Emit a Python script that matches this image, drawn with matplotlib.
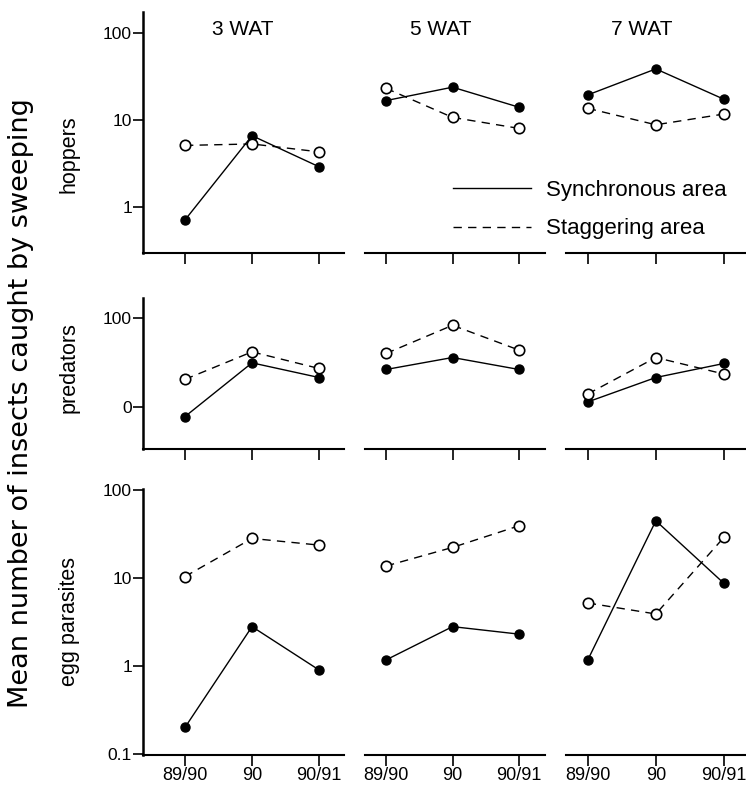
import matplotlib
matplotlib.use("Agg")
import matplotlib.pyplot as plt
from matplotlib.lines import Line2D

plt.rcParams['font.family'] = ['Liberation Sans', 'DejaVu Sans']

# Categories
years = ["89/90", "90", "90/91"]
weeks = ["3 WAT", "5 WAT", "7 WAT"]
groups = ["hoppers", "predators", "egg parasites"]

# Mean catches, one list per WAT column (89/90, 90, 90/91)
hoppers_sync = [[0.71, 6.6, 2.9], [16.7, 23.8, 14.0], [19.4, 38.6, 17.3]]
hoppers_stag = [[5.1, 5.3, 4.3], [23.1, 10.7, 8.0], [13.6, 8.8, 11.7]]
predators_sync = [[7.9, 31.3, 21.5], [26.4, 35.9, 26.4], [11.5, 21.5, 30.8]]
predators_stag = [[20.5, 41.5, 27.1], [39.8, 82.0, 43.4], [14.1, 35.9, 23.5]]
parasites_sync = [[0.2, 2.8, 0.9], [1.17, 2.8, 2.3], [1.17, 44.8, 8.7]]
parasites_stag = [[10.4, 28.2, 23.7], [13.7, 22.3, 39.3], [5.2, 3.9, 29.0]]

sync_data = [hoppers_sync, predators_sync, parasites_sync]
stag_data = [hoppers_stag, predators_stag, parasites_stag]

# layout (pixels of a 746x802 figure)
W, H = 746, 802
row_px = [(12, 253), (298, 449), (489, 755)]
col_px = [(143, 344), (365, 545), (566, 745)]
xlims = [(-0.627, 2.373), (-0.316, 2.39), (-0.32, 2.31)]
ylims = [(0.296, 174), (3.44, 165), (0.097, 103)]
yticks = [([1, 10, 100], ["1", "10", "100"]),
          ([10, 100], ["0", "100"]),
          ([0.1, 1, 10, 100], ["0.1", "1", "10", "100"])]
title_x = [0.866, 0.83, 0.79]
label_y = [154, 368, 622]

fig = plt.figure(figsize=(W / 100, H / 100), dpi=100)

for r in range(3):
    for c in range(3):
        y0, y1 = row_px[r]
        x0, x1 = col_px[c]
        ax = fig.add_axes([x0 / W, 1 - y1 / H, (x1 - x0) / W, (y1 - y0) / H])
        ax.patch.set_alpha(0)
        x = list(range(len(years)))
        ax.plot(x, sync_data[r][c], color='black', lw=1.0, marker='o',
                ms=6.5, mfc='black', mec='black', zorder=3)
        ax.plot(x, stag_data[r][c], color='black', lw=1.0, ls=(0, (6, 4.5)),
                marker='o', ms=7.5, mfc='white', mec='black', mew=1.2, zorder=4)
        ax.set_yscale('log')
        ax.set_xlim(*xlims[c])
        ax.set_ylim(*ylims[r])
        ax.minorticks_off()
        for s in ['top', 'right']:
            ax.spines[s].set_visible(False)
        ax.spines['bottom'].set_linewidth(1.5)
        ax.set_xticks(x)
        ax.tick_params(axis='x', direction='out', length=8, width=1.2,
                       labelsize=13, pad=1)
        if r == 2:
            ax.set_xticklabels(years)
        else:
            ax.set_xticklabels([])
        if c == 0:
            ax.spines['left'].set_linewidth(1.8)
            ax.set_yticks(yticks[r][0], yticks[r][1])
            ax.tick_params(axis='y', direction='out', length=7, width=1.2,
                           labelsize=12.5, pad=1)
        else:
            ax.spines['left'].set_visible(False)
            ax.set_yticks([])
        if r == 0:
            ax.text(title_x[c], 0.929, weeks[c], transform=ax.get_xaxis_transform(),
                    ha='center', va='center', fontsize=15)
        if r == 0 and c == 1:
            handles = [Line2D([], [], color='black', lw=1.0),
                       Line2D([], [], color='black', lw=1.0, ls=(0, (6, 4.5)))]
            ax.legend(handles, ["Synchronous area", "Staggering area"],
                      loc='upper left', bbox_to_anchor=(453 / W, 1 - 180 / H),
                      bbox_transform=fig.transFigure, frameon=False,
                      fontsize=16, handlelength=3.5, handletextpad=0.7,
                      labelspacing=0.78, borderpad=0, borderaxespad=0)

for r in range(3):
    fig.text(69 / W, 1 - label_y[r] / H, groups[r], rotation=90,
             ha='center', va='center', fontsize=15.5)

fig.text(21 / W, 0.497, "Mean number of insects caught by sweeping", rotation=90,
         ha='center', va='center', fontsize=19.5, family='DejaVu Sans')

fig.savefig("out.png", dpi=100)
